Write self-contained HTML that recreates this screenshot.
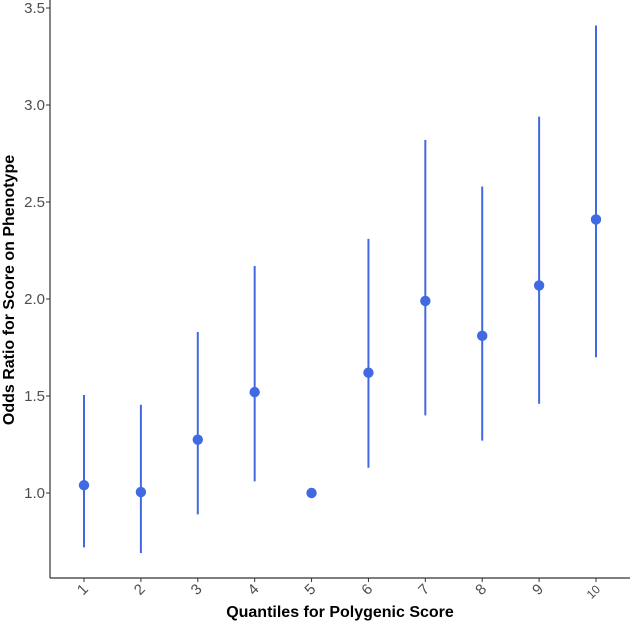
<!DOCTYPE html>
<html><head><meta charset="utf-8"><style>
body{margin:0;background:#fff}
svg{display:block;font-family:"Liberation Sans",sans-serif}
</style></head><body>
<svg id="c" width="630" height="624"></svg>
<script>
const categories=["1","2","3","4","5","6","7","8","9","10"];
const estimates=[1.04,1.005,1.275,1.52,1.0,1.62,1.99,1.81,2.07,2.41];
const lowers=[0.72,0.69,0.89,1.06,null,1.13,1.40,1.27,1.46,1.70];
const uppers=[1.505,1.455,1.83,2.17,null,2.31,2.82,2.58,2.94,3.41];
const yTicks=[1.0,1.5,2.0,2.5,3.0,3.5];
const yLabels=["1.0","1.5","2.0","2.5","3.0","3.5"];
const NS="http://www.w3.org/2000/svg",svg=document.getElementById('c');
const L=50,B=578,R=630;
const x=i=>84+i*(596-84)/9;
const y=v=>493-(v-1)*194;
function mk(t,a,p){const e=document.createElementNS(NS,t);for(const k in a)e.setAttribute(k,a[k]);(p||svg).appendChild(e);return e;}
let ax=mk('line',{x1:L,y1:0,x2:L,y2:B,stroke:'#333','stroke-width':1.2});


ax=mk('line',{x1:L,y1:B,x2:R,y2:B,stroke:'#333','stroke-width':1.2});


yTicks.forEach((v,i)=>{
 let t=mk('line',{x1:L-4,y1:y(v),x2:L,y2:y(v),stroke:'#333'});
 
 
 let tx=mk('text',{x:L-5,y:y(v)+5,'text-anchor':'end','font-size':15,fill:'#4d4d4d'});
 tx.textContent=yLabels[i];
 
 
});
categories.forEach((c,i)=>{
 let t=mk('line',{x1:x(i),y1:B,x2:x(i),y2:B+4,stroke:'#333'});
 
 
 let fs=c.length>1?12:15;
 let tx=mk('text',{x:x(i)+5,y:B+12,'text-anchor':'end','font-size':fs,fill:'#4d4d4d',transform:`rotate(-45 ${x(i)+5} ${B+12})`});
 tx.textContent=c;
 
 
 if(lowers[i]!=null){
  let e=mk('line',{x1:x(i),y1:y(lowers[i]),x2:x(i),y2:y(uppers[i]),stroke:'#4169e1','stroke-width':2});
  
  
 }
 let p=mk('circle',{cx:x(i),cy:y(estimates[i]),r:5.2,fill:'#4169e1'});
 
 
});
let xt=mk('text',{x:340,y:617,'text-anchor':'middle','font-size':16,'font-weight':'bold',fill:'#000'});
xt.textContent='Quantiles for Polygenic Score';


let yt=mk('text',{x:14,y:290,'text-anchor':'middle','font-size':16,'font-weight':'bold',fill:'#000',transform:'rotate(-90 14 290)'});
yt.textContent='Odds Ratio for Score on Phenotype';


</script>
</body></html>
